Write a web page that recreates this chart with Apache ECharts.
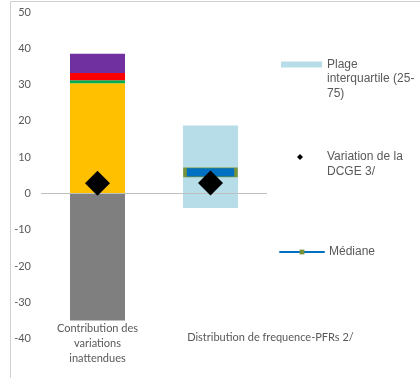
<!DOCTYPE html>
<html>
<head>
<meta charset="utf-8">
<script src="https://cdn.jsdelivr.net/npm/echarts@6/dist/echarts.min.js"></script>
<style>html,body{margin:0;padding:0;background:#fff}#c{width:420px;height:378px}</style>
</head>
<body>
<div id="c"></div>
<script>
var categories = ['Contribution des\nvariations\ninattendues', 'Distribution de frequence-PFRs 2/'];
var yTicks = { min: -40, max: 50, interval: 10 };
// Contribution des variations inattendues (stacked components)
var grayNeg = [-35, '-'];
var yellow = [30.4, '-'];
var green = [0.8, '-'];
var red = [2.0, '-'];
var purple = [5.3, '-'];
// Distribution de frequence: interquartile range 25-75
var iqrLow = ['-', -4.0];
var iqrHigh = ['-', 18.7];
var median = ['-', 5.8];
var dcge = [2.8, 2.9];

var legendNames = {
  iqr: 'Plage\ninterquartile (25-\n75)',
  dcge: 'Variation de la\nDCGE 3/',
  med: 'Médiane'
};

var chart = echarts.init(document.getElementById('c'), null, { renderer: 'canvas' });
var legendFont = { fontFamily: 'Liberation Sans', fontSize: 12, color: '#595959', lineHeight: 14.5 };

function barSeries(name, data, color) {
  return {
    name: name, type: 'bar', stack: 's', data: data, barWidth: 55,
    itemStyle: { color: color }, z: 2
  };
}

var option = {
  animation: false,
  grid: { left: 41, right: 153, top: 12, bottom: 39.4 },
  graphic: [{
    type: 'rect', silent: true, z: -1,
    shape: { x: 10.5, y: 1.5, width: 420, height: 400 },
    style: { fill: 'none', stroke: '#d0d0d0', lineWidth: 1 }
  }],
  legend: [
    {
      data: [{ name: legendNames.iqr, icon: 'rect' }],
      formatter: function (n) { return '\n\n' + n; },
      orient: 'vertical', left: 281, top: 28.25, padding: 0,
      itemWidth: 41, itemHeight: 6, itemGap: 5, selectedMode: false,
      textStyle: legendFont
    },
    {
      data: [{ name: legendNames.dcge, icon: 'path://M0,0M41,8M19,1L22,4L19,7L16,4Z', itemStyle: { color: '#000', opacity: 1 } }],
      formatter: function (n) { return '\n' + n; },
      orient: 'vertical', left: 281, top: 135.25, padding: 0,
      itemWidth: 41, itemHeight: 8, itemGap: 5, selectedMode: false,
      textStyle: legendFont
    },
    {
      data: [{ name: legendNames.med, itemStyle: { color: '#77933c', borderWidth: 0 } }],
      orient: 'vertical', left: 279, top: 244.75, padding: 0,
      itemWidth: 44, itemHeight: 6, itemGap: 4, selectedMode: false,
      textStyle: legendFont
    }
  ],
  xAxis: {
    type: 'category', data: categories,
    axisLine: { show: false }, axisTick: { show: false },
    axisLabel: {
      margin: -18, color: '#595959', fontFamily: 'Lato', fontSize: 11, lineHeight: 15,
      interval: 0,
      formatter: function (v, i) { return i === 1 ? '{p|' + v + '}' : v; },
      rich: { p: { padding: [18, 0, 0, 120], color: '#595959', fontFamily: 'Lato', fontSize: 11, lineHeight: 15 } }
    }
  },
  yAxis: {
    type: 'value', min: yTicks.min, max: yTicks.max, interval: yTicks.interval,
    axisLine: { show: false }, axisTick: { show: false }, splitLine: { show: false },
    axisLabel: { margin: 10, color: '#595959', fontFamily: 'Lato', fontSize: 11 }
  },
  series: [
    Object.assign(barSeries('gray', grayNeg, '#7f7f7f'), {
      markLine: {
        silent: true, symbol: 'none', label: { show: false },
        lineStyle: { color: '#bfbfbf', width: 1, type: 'solid' },
        data: [{ yAxis: 0 }]
      }
    }),
    barSeries('yellow', yellow, '#ffc000'),
    barSeries('green', green, '#00b050'),
    barSeries('red', red, '#ff0000'),
    barSeries('purple', purple, '#7030a0'),
    barSeries(legendNames.iqr, iqrLow, '#b7dee8'),
    barSeries(legendNames.iqr, iqrHigh, '#b7dee8'),
    {
      name: legendNames.med, type: 'line', data: median, z: 4,
      symbol: 'rect', symbolSize: [51, 9], showSymbol: true,
      lineStyle: { color: '#0070c0', width: 4, cap: 'round' },
      itemStyle: { color: '#0070c0', borderColor: '#77933c', borderWidth: 1.5 }
    },
    {
      name: legendNames.dcge, type: 'scatter', data: dcge, z: 5,
      symbol: 'diamond', symbolSize: 25,
      itemStyle: { color: '#000000', opacity: 1 }
    }
  ]
};
chart.setOption(option);
</script>
</body>
</html>
